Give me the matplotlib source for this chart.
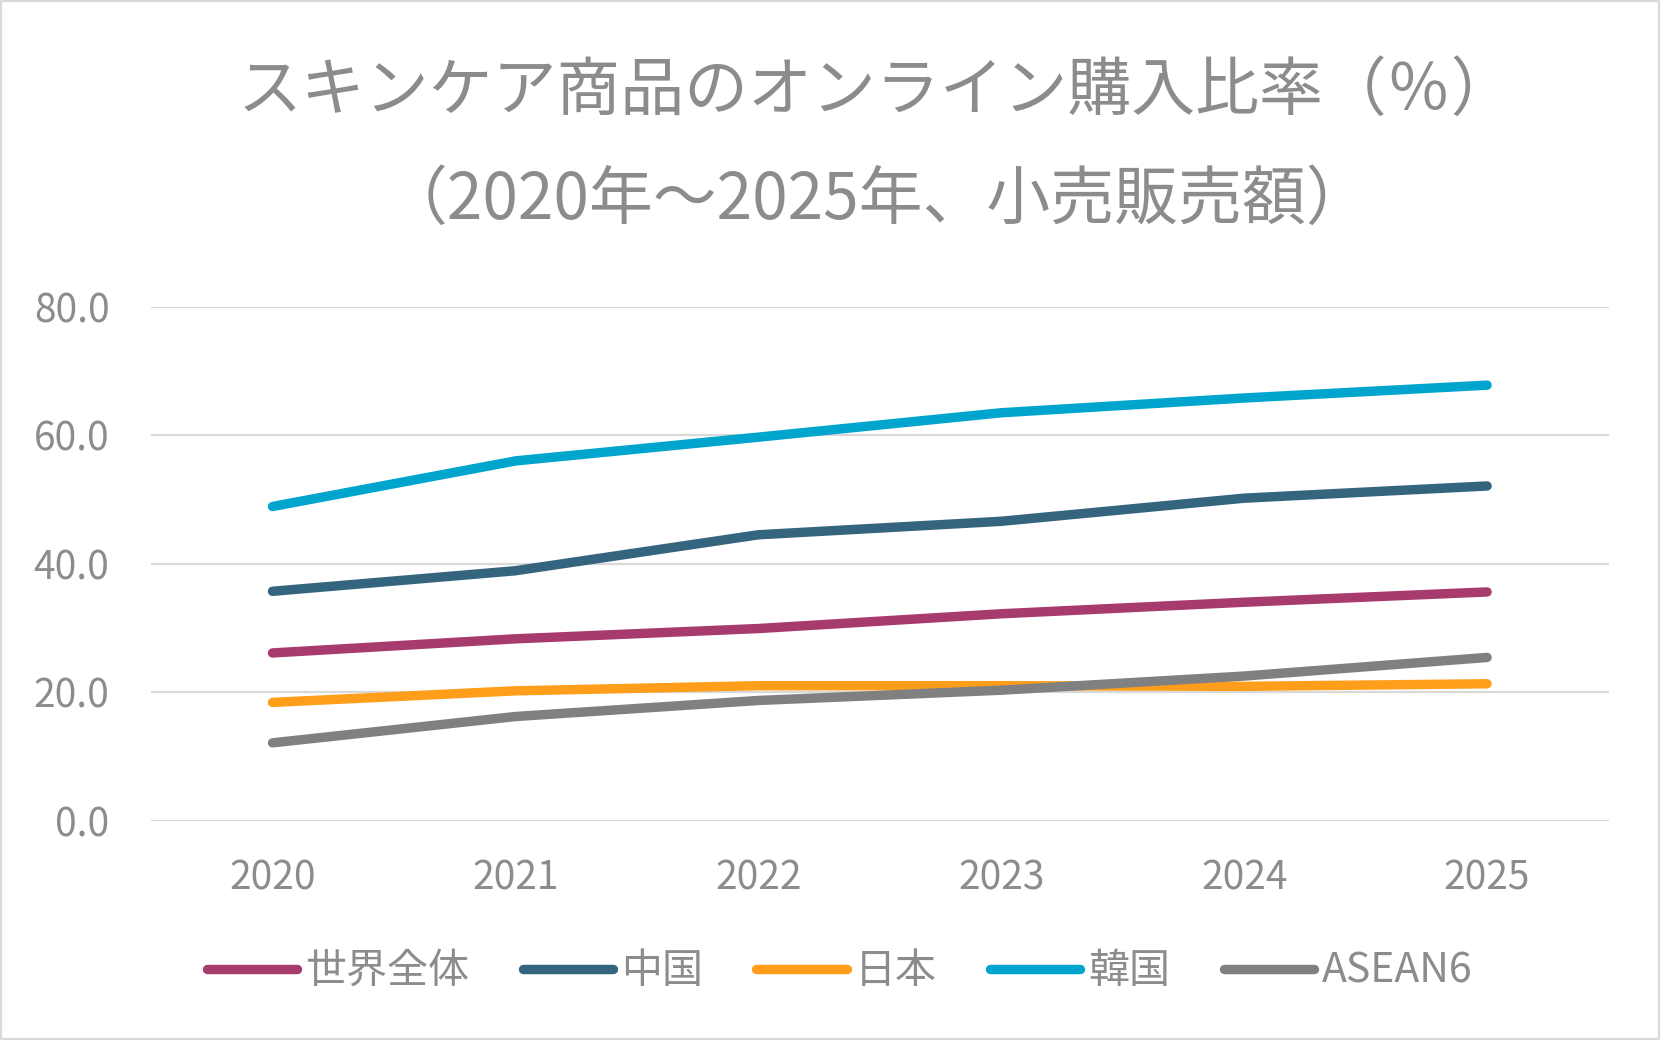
import matplotlib.pyplot as plt
from matplotlib.patches import Rectangle

plt.rcParams['font.family'] = ['Noto Sans CJK JP', 'DejaVu Sans']

years = ["2020", "2021", "2022", "2023", "2024", "2025"]
world = [26.1, 28.3, 29.9, 32.2, 34.0, 35.6]
china = [35.7, 38.9, 44.5, 46.6, 50.2, 52.1]
japan = [18.4, 20.2, 21.0, 21.0, 20.9, 21.3]
korea = [48.9, 56.0, 59.7, 63.5, 65.8, 67.8]
asean = [12.1, 16.2, 18.7, 20.3, 22.5, 25.4]

series = [
    ("世界全体", world, "#a83b6e"),
    ("中国", china, "#35647e"),
    ("日本", japan, "#ff9e1b"),
    ("韓国", korea, "#00a5cd"),
    ("ASEAN6", asean, "#808080"),
]

txt = "#8c8c8c"

fig = plt.figure(figsize=(16.6, 10.4), dpi=100)
ax = fig.add_axes([0.091, 0.211, 0.878, 0.494])

x = range(len(years))
for name, vals, col in series:
    ax.plot(x, vals, color=col, lw=6.8, solid_capstyle="round", label=name)

ax.set_xlim(-0.5, len(years) - 0.5)
ax.set_ylim(0, 80)
ax.set_yticks([0, 20, 40, 60, 80])
ax.set_yticklabels([f"{v:.1f}" for v in [0, 20, 40, 60, 80]])
ax.set_xticks(list(x))
ax.set_xticklabels(years)
ax.grid(axis="y", color="#d9d9d9", lw=1.6)
ax.set_axisbelow(True)
for s in ax.spines.values():
    s.set_visible(False)
ax.tick_params(axis="both", length=0, labelsize=28, colors=txt)
ax.tick_params(axis="y", pad=30)
ax.tick_params(axis="x", pad=27)

fig.text(0.528, 0.912, "スキンケア商品のオンライン購入比率（％）",
         ha="center", va="center", fontsize=46, color=txt)
fig.text(0.528, 0.807, "（2020年～2025年、小売販売額）",
         ha="center", va="center", fontsize=46, color=txt)

fig.legend(loc="center", bbox_to_anchor=(0.506, 0.066), ncol=5, frameon=False,
           fontsize=29.5, labelcolor=txt, handlelength=2.2, handletextpad=0.2,
           columnspacing=1.3)

fig.patches.append(Rectangle((0, 0), 1, 1, transform=fig.transFigure,
                             fill=False, edgecolor="#d9d9d9", lw=3))

fig.savefig("out.png", dpi=100)
